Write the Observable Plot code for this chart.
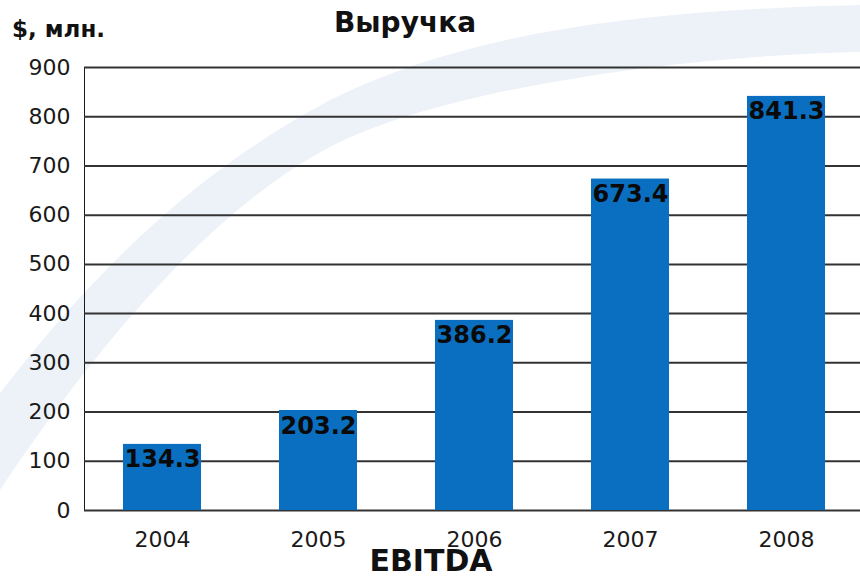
<!DOCTYPE html>
<html>
<head>
<meta charset="utf-8">
<script src="https://cdn.jsdelivr.net/npm/d3@7"></script>
<script src="https://cdn.jsdelivr.net/npm/@observablehq/plot@0.6"></script>
<style>
  html, body { margin: 0; padding: 0; background: #fff; }
  #wrap { position: relative; width: 860px; height: 577px; overflow: hidden; font-family: "DejaVu Sans", sans-serif; }
  #decor { position: absolute; left: 0; top: 0; }
  #chart { position: absolute; left: 0; top: 0; }
  .lbl { position: absolute; font-weight: bold; line-height: 1; color: #111; white-space: nowrap; }
</style>
</head>
<body>
<div id="wrap">
  <svg id="decor" width="860" height="577">
    <path d="M0,393 C80,290 180,180 330,100 C470,30 650,10 860,5 L860,52 C700,55 450,85 330,147 C200,215 80,370 0,490 Z" fill="#edf2f9"/>
  </svg>
  <div id="chart"></div>
  <div class="lbl" style="left:12px; top:18px; font-size:23px;">$, млн.</div>
  <div class="lbl" style="left:405px; top:9px; font-size:28px; transform:translateX(-50%);">Выручка</div>
  <div class="lbl" style="left:431px; top:546px; font-size:30px; transform:translateX(-50%);">EBITDA</div>
</div>
<script>
const years = ["2004", "2005", "2006", "2007", "2008"];
const revenue = [134.3, 203.2, 386.2, 673.4, 841.3];
const yTicks = [0, 100, 200, 300, 400, 500, 600, 700, 800, 900];

const data = years.map((year, i) => ({year, value: revenue[i]}));

const chart = Plot.plot({
  width: 860,
  height: 577,
  marginLeft: 84,
  marginRight: 0,
  marginTop: 67,
  marginBottom: 67,
  style: {background: "transparent", fontFamily: "DejaVu Sans, sans-serif", fontSize: "22px", color: "#1a1a1a"},
  x: {domain: years, range: [84, 864], paddingInner: 0.5, paddingOuter: 0.25, tickSize: 0, tickPadding: 21, label: null},
  y: {domain: [0, 900], ticks: yTicks, tickSize: 0, tickPadding: 14, label: null, line: true},
  marks: [
    Plot.ruleY(yTicks, {stroke: "#333", strokeWidth: 2}),
    Plot.barY(data, {x: "year", y: "value", fill: "#0a6fc0"}),
    Plot.text(data, {x: "year", y: "value", text: d => d.value.toFixed(1), lineAnchor: "top", dy: 6, fontWeight: "bold", fontSize: 24, fill: "#0a0a0a"})
  ]
});
document.getElementById("chart").appendChild(chart);
</script>
</body>
</html>
